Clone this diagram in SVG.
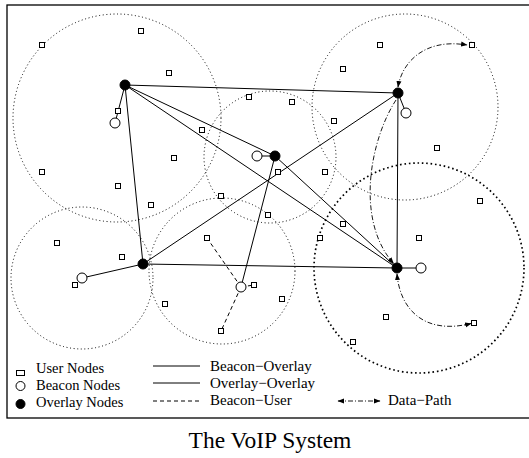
<svg xmlns="http://www.w3.org/2000/svg" width="529" height="458" viewBox="0 0 529 458">
<style>
.frame{fill:none;stroke:#000;stroke-width:1.3}
.area{fill:none;stroke:#000;stroke-width:1;stroke-dasharray:1 2.6}
.area-b{fill:none;stroke:#000;stroke-width:1.7;stroke-dasharray:1.6 2.8}
.edge{fill:none;stroke:#000;stroke-width:1}
.bu{fill:none;stroke:#000;stroke-width:1;stroke-dasharray:4 3}
.dp{fill:none;stroke:#000;stroke-width:0.9;stroke-dasharray:5 2 1 2}
.user{fill:#fff;stroke:#000;stroke-width:1}
.beacon{fill:#fff;stroke:#000;stroke-width:1}
.overlay{fill:#000;stroke:#000;stroke-width:1}
text{font-family:"Liberation Serif","Times New Roman",serif;fill:#000}
.lg{font-size:14.5px}
.lg2{font-size:15px}
.cap{font-size:23.5px}
</style>
<defs>
<marker id="ah" markerUnits="userSpaceOnUse" markerWidth="8" markerHeight="6" refX="6" refY="3" orient="auto-start-reverse">
<path d="M0,0.5 L6.5,3 L0,5.5 z" fill="#000"/>
</marker>
</defs>
<rect class="frame" x="7" y="5" width="530" height="413"/>
<g id="areas">
<circle class="area" cx="117" cy="118" r="104"/>
<circle class="area" cx="405" cy="107" r="93"/>
<circle class="area" cx="270" cy="157" r="66"/>
<circle class="area" cx="82" cy="278" r="71"/>
<circle class="area" cx="222" cy="271" r="73"/>
<circle class="area-b" cx="419" cy="268" r="105"/>
</g>
<g id="connectors">
<line class="edge" x1="125" y1="85" x2="398" y2="93"/>
<line class="edge" x1="125" y1="85" x2="275" y2="156"/>
<line class="edge" x1="125" y1="85" x2="143" y2="264"/>
<line class="edge" x1="125" y1="85" x2="397" y2="268"/>
<line class="edge" x1="398" y1="93" x2="143" y2="264"/>
<line class="edge" x1="398" y1="93" x2="397" y2="268"/>
<line class="edge" x1="275" y1="156" x2="397" y2="268"/>
<line class="edge" x1="143" y1="264" x2="397" y2="268"/>
<line class="edge" x1="125" y1="85" x2="115" y2="123"/>
<line class="edge" x1="275" y1="156" x2="258" y2="156"/>
<line class="edge" x1="398" y1="93" x2="406" y2="113"/>
<line class="edge" x1="143" y1="264" x2="82" y2="278"/>
<line class="edge" x1="397" y1="268" x2="421" y2="268"/>
<line class="edge" x1="275" y1="156" x2="241" y2="287"/>
<line class="bu" x1="241" y1="287" x2="207" y2="238"/>
<line class="bu" x1="241" y1="287" x2="221" y2="331"/>
<line class="bu" x1="241" y1="287" x2="254" y2="285"/>
<path class="dp" d="M398,87 C402,62 425,38 467,45" marker-start="url(#ah)" marker-end="url(#ah)"/>
<path class="dp" d="M396,100 C370,140 355,220 393.5,263.5" marker-end="url(#ah)"/>
<path class="dp" d="M397,274 C400,310 425,335 471,323.5" marker-start="url(#ah)" marker-end="url(#ah)"/>
</g>
<g id="user-nodes">
<rect id="u1" class="user" x="138.5" y="28.5" width="5" height="5"/>
<rect id="u2" class="user" x="39.5" y="42.5" width="5" height="5"/>
<rect id="u3" class="user" x="166.5" y="70.5" width="5" height="5"/>
<rect id="u4" class="user" x="115.5" y="108.5" width="5" height="5"/>
<rect id="u5" class="user" x="171.5" y="155.5" width="5" height="5"/>
<rect id="u6" class="user" x="340.5" y="66.5" width="5" height="5"/>
<rect id="u7" class="user" x="246.5" y="94.5" width="5" height="5"/>
<rect id="u8" class="user" x="289.5" y="99.5" width="5" height="5"/>
<rect id="u9" class="user" x="331.5" y="118.5" width="5" height="5"/>
<rect id="u10" class="user" x="199.5" y="127.5" width="5" height="5"/>
<rect id="u11" class="user" x="377.5" y="42.5" width="5" height="5"/>
<rect id="u12" class="user" x="469.5" y="42.5" width="5" height="5"/>
<rect id="u13" class="user" x="434.5" y="145.5" width="5" height="5"/>
<rect id="u14" class="user" x="39.5" y="169.5" width="5" height="5"/>
<rect id="u15" class="user" x="115.5" y="183.5" width="5" height="5"/>
<rect id="u16" class="user" x="148.5" y="202.5" width="5" height="5"/>
<rect id="u17" class="user" x="54.5" y="240.5" width="5" height="5"/>
<rect id="u18" class="user" x="119.5" y="254.5" width="5" height="5"/>
<rect id="u19" class="user" x="72.5" y="282.5" width="5" height="5"/>
<rect id="u20" class="user" x="162.5" y="301.5" width="5" height="5"/>
<rect id="u21" class="user" x="275.5" y="169.5" width="5" height="5"/>
<rect id="u22" class="user" x="322.5" y="169.5" width="5" height="5"/>
<rect id="u23" class="user" x="218.5" y="193.5" width="5" height="5"/>
<rect id="u24" class="user" x="265.5" y="212.5" width="5" height="5"/>
<rect id="u25" class="user" x="340.5" y="221.5" width="5" height="5"/>
<rect id="u26" class="user" x="204.5" y="235.5" width="5" height="5"/>
<rect id="u27" class="user" x="317.5" y="235.5" width="5" height="5"/>
<rect id="u28" class="user" x="251.5" y="282.5" width="5" height="5"/>
<rect id="u29" class="user" x="279.5" y="296.5" width="5" height="5"/>
<rect id="u30" class="user" x="477.5" y="198.5" width="5" height="5"/>
<rect id="u31" class="user" x="416.5" y="235.5" width="5" height="5"/>
<rect id="u32" class="user" x="218.5" y="328.5" width="5" height="5"/>
<rect id="u33" class="user" x="383.5" y="314.5" width="5" height="5"/>
<rect id="u34" class="user" x="471.5" y="320.5" width="5" height="5"/>
<rect id="u35" class="user" x="350.5" y="339.5" width="5" height="5"/>
</g>
<g id="beacon-nodes">
<g id="b1"><circle class="beacon" cx="115" cy="123" r="5"/></g>
<g id="b2"><circle class="beacon" cx="406" cy="113" r="5"/></g>
<g id="b3"><circle class="beacon" cx="257" cy="156" r="5"/></g>
<g id="b4"><circle class="beacon" cx="82" cy="278" r="5"/></g>
<g id="b5"><circle class="beacon" cx="241" cy="287" r="5"/></g>
<g id="b6"><circle class="beacon" cx="421" cy="268" r="5"/></g>
</g>
<g id="overlay-nodes">
<g id="o1"><circle class="overlay" cx="125" cy="85" r="5"/></g>
<g id="o2"><circle class="overlay" cx="398" cy="93" r="5"/></g>
<g id="o3"><circle class="overlay" cx="275" cy="156" r="5"/></g>
<g id="o4"><circle class="overlay" cx="143" cy="264" r="5"/></g>
<g id="o5"><circle class="overlay" cx="397" cy="268" r="5"/></g>
</g>
<g id="legend">
<rect class="user" x="16.5" y="370.5" width="8" height="5"/>
<text class="lg" x="36" y="373">User Nodes</text>
<circle class="beacon" cx="20.5" cy="386" r="4.5"/>
<text class="lg" x="36" y="390">Beacon Nodes</text>
<circle class="overlay" cx="20.5" cy="404" r="4.5"/>
<text class="lg" x="36" y="407">Overlay Nodes</text>
<line class="edge" x1="153" y1="366" x2="200" y2="366"/>
<text class="lg2" x="210" y="371">Beacon−Overlay</text>
<line class="edge" x1="153" y1="383" x2="200" y2="383"/>
<text class="lg2" x="210" y="388">Overlay−Overlay</text>
<line class="bu" x1="153" y1="401" x2="200" y2="401"/>
<text class="lg2" x="210" y="405">Beacon−User</text>
<path class="dp" d="M338,401 H380" marker-start="url(#ah)" marker-end="url(#ah)"/>
<text class="lg2" x="388" y="405">Data−Path</text>
</g>
<text class="cap" x="270" y="448" text-anchor="middle">The VoIP System</text>
</svg>
